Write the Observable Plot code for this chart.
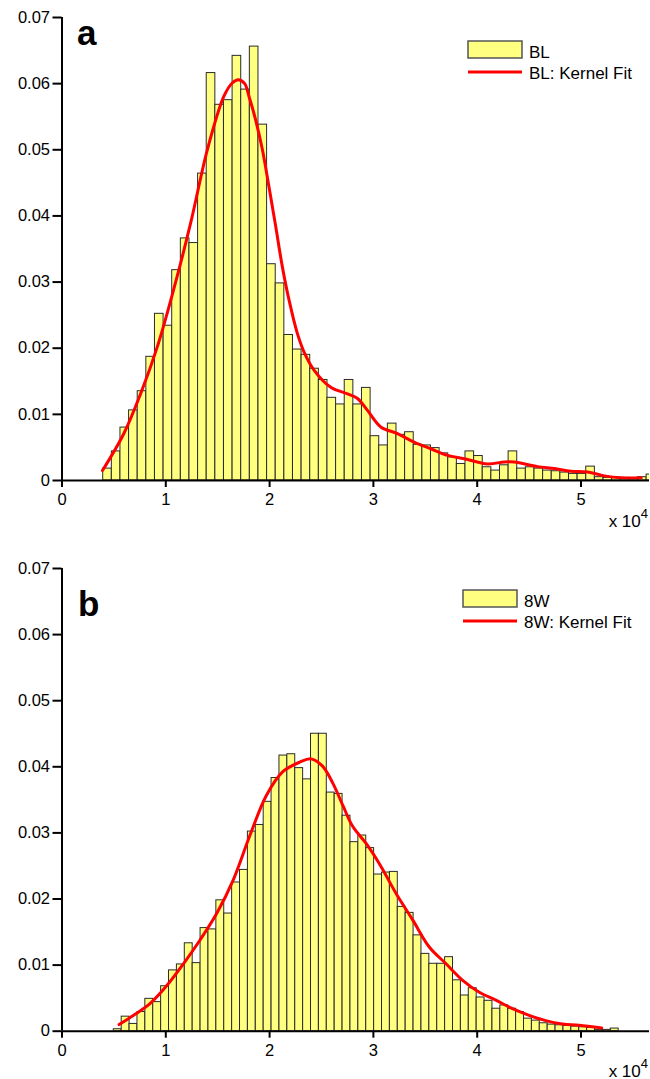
<!DOCTYPE html>
<html><head><meta charset="utf-8">
<script src="https://cdn.jsdelivr.net/npm/d3@7"></script>
<script src="https://cdn.jsdelivr.net/npm/@observablehq/plot@0.6"></script>
<style>
body{margin:0;background:#fff;width:650px;overflow:hidden}
#chart svg{display:block}
</style></head><body><div id="chart"></div>
<script>
// x values are in units of 10^4
const xTicks = [0, 1, 2, 3, 4, 5];
const yTicks = [0, 0.01, 0.02, 0.03, 0.04, 0.05, 0.06, 0.07];
const xMax = 5.66;

// Panel a: BL histogram (64 bins)
const labelA = "BL";
const binStartA = 0.397, binWidthA = 0.0831;
const densA = [0.0018,0.0044,0.0080,0.0106,0.0135,0.0187,0.0252,0.0234,0.0318,0.0366,
  0.0359,0.0464,0.0616,0.0568,0.0575,0.0642,0.0591,0.0656,0.0538,0.0327,
  0.0298,0.0220,0.0198,0.0190,0.0169,0.0152,0.0125,0.0115,0.0152,0.0115,
  0.0140,0.0067,0.0053,0.0086,0.0069,0.0073,0.0054,0.0053,0.0049,0.0041,
  0.0035,0.0025,0.0044,0.0037,0.0020,0.0015,0.0023,0.0044,0.0018,0.0020,
  0.0018,0.0015,0.0014,0.0012,0.0010,0.0010,0.0021,0.0005,0.0004,0.0004,
  0.0004,0.0003,0.0005,0.0009];
const fitAx = [0.39,0.596,0.757,0.918,1.078,1.239,1.400,1.560,1.640,1.700,1.760,1.801,1.866,1.931,1.994,2.059,2.123,2.187,2.268,2.330,2.428,2.589,2.750,2.847,2.943,3.071,3.232,3.392,3.553,3.715,3.875,4.10,4.26,4.357,4.582,4.743,4.903,5.064,5.225,5.386,5.58];
const fitAy = [0.0015,0.0071,0.0131,0.0202,0.0290,0.0389,0.0500,0.0581,0.0601,0.0606,0.0600,0.0581,0.0545,0.0500,0.0444,0.0384,0.0323,0.0273,0.0222,0.0195,0.0167,0.0141,0.0131,0.0124,0.0106,0.0081,0.0071,0.0058,0.0048,0.0038,0.0033,0.0025,0.0028,0.0028,0.0021,0.0018,0.0014,0.0013,0.0007,0.0004,0.0004];

// Panel b: 8W histogram (64 bins)
const labelB = "8W";
const binStartB = 0.499, binWidthB = 0.0760;
const densB = [0.0003,0.0022,0.0011,0.0029,0.0049,0.0044,0.0068,0.0092,0.0101,0.0133,
  0.0103,0.0156,0.0154,0.0198,0.0178,0.0225,0.0244,0.0302,0.0312,0.0347,
  0.0383,0.0417,0.0419,0.0398,0.0381,0.0450,0.0450,0.0361,0.0359,0.0326,
  0.0286,0.0296,0.0277,0.0237,0.0240,0.0241,0.0188,0.0179,0.0145,0.0117,
  0.0102,0.0102,0.0112,0.0077,0.0054,0.0065,0.0051,0.0046,0.0034,0.0039,
  0.0034,0.0029,0.0019,0.0016,0.0012,0.0010,0.0009,0.0008,0.0007,0.0006,
  0.0005,0.0002,0.0002,0.0004];
const fitBx = [0.55,0.69,0.85,1.01,1.17,1.33,1.49,1.65,1.81,1.97,2.13,2.29,2.40,2.51,2.61,2.71,2.80,2.93,3.07,3.22,3.38,3.54,3.70,3.86,4.02,4.18,4.34,4.50,4.66,4.82,4.98,5.20];
const fitBy = [0.0010,0.0024,0.0042,0.0069,0.0102,0.0138,0.0178,0.0229,0.0296,0.0357,0.0393,0.0407,0.0412,0.0401,0.0375,0.0340,0.0310,0.0284,0.0250,0.0208,0.0168,0.0127,0.0102,0.0077,0.0059,0.0047,0.0034,0.0024,0.0016,0.0011,0.0009,0.0005];

const FONT = "'Liberation Sans', Arial, Helvetica, sans-serif";
const fmtY = d => d === 0 ? "0" : d.toFixed(2);

function panel(cfg) {
  const bins = cfg.dens.map((d, i) => ({x1: cfg.start + i * cfg.width, x2: cfg.start + (i + 1) * cfg.width, y: d}));
  const fit = cfg.fx.map((x, i) => ({x, y: cfg.fy[i]}));
  const chart = Plot.plot({
    width: 650, height: cfg.height,
    marginLeft: 61.5, marginRight: 1, marginTop: cfg.mt, marginBottom: cfg.mb,
    x: {domain: [0, xMax], label: null},
    y: {domain: [0, 0.07], label: null},
    style: {fontFamily: FONT, fontSize: "16px", color: "#000", background: "#fff", overflow: "visible"},
    marks: [
      Plot.rectY(bins, {x1: "x1", x2: "x2", y: "y", fill: "#ffff80", stroke: "#2a2a2a", strokeWidth: 1, clip: true}),
      Plot.line(fit, {x: "x", y: "y", stroke: "#ff0000", strokeWidth: 3, curve: "catmull-rom"}),
      Plot.ruleY([0], {stroke: "#000", strokeWidth: 2}),
      Plot.ruleX([0], {y1: 0, y2: 0.07, stroke: "#000", strokeWidth: 2}),
      Plot.axisY({ticks: yTicks, tickSize: 9, tickPadding: 3, tickFormat: fmtY, fontSize: 16.5, strokeWidth: 2, label: null}),
      Plot.axisX({ticks: xTicks, tickSize: 7, tickPadding: 6, tickFormat: d => String(d), fontSize: 16.5, strokeWidth: 2, label: null})
    ]
  });
  const svg = d3.select(chart);
  const g = svg.append("g").attr("font-family", FONT).attr("fill", "#000").attr("text-anchor", "start");
  g.append("text").attr("x", cfg.letterX).attr("y", cfg.letterY).attr("font-size", 35).attr("font-weight", "bold").text(cfg.letter);
  const L = cfg.legend;
  g.append("rect").attr("x", L.x).attr("y", L.y).attr("width", 54).attr("height", 17)
    .attr("fill", "#ffff80").attr("stroke", "#555").attr("stroke-width", 1.5);
  g.append("text").attr("x", L.x + 61).attr("y", L.y + 16.5).attr("font-size", 17).text(cfg.label);
  g.append("line").attr("x1", L.x).attr("x2", L.x + 54).attr("y1", L.y + 31).attr("y2", L.y + 31)
    .attr("stroke", "#ff0000").attr("stroke-width", 3);
  g.append("text").attr("x", L.x + 61).attr("y", L.y + 37.5).attr("font-size", 17).text(cfg.label + ": Kernel Fit");
  const t = g.append("text").attr("x", 648).attr("y", cfg.expY).attr("text-anchor", "end").attr("font-size", 17);
  t.append("tspan").text("x 10");
  t.append("tspan").attr("font-size", 13).attr("dy", -9).text("4");
  return chart;
}

const root = document.getElementById("chart");
root.appendChild(panel({dens: densA, start: binStartA, width: binWidthA, fx: fitAx, fy: fitAy,
  height: 540, mt: 17, mb: 60, letter: "a", letterX: 77, letterY: 45, label: labelA,
  legend: {x: 468, y: 41}, expY: 527}));
root.appendChild(panel({dens: densB, start: binStartB, width: binWidthB, fx: fitBx, fy: fitBy,
  height: 539, mt: 28, mb: 48.3, letter: "b", letterX: 78, letterY: 76, label: labelB,
  legend: {x: 463, y: 50}, expY: 537}));
</script></body></html>
